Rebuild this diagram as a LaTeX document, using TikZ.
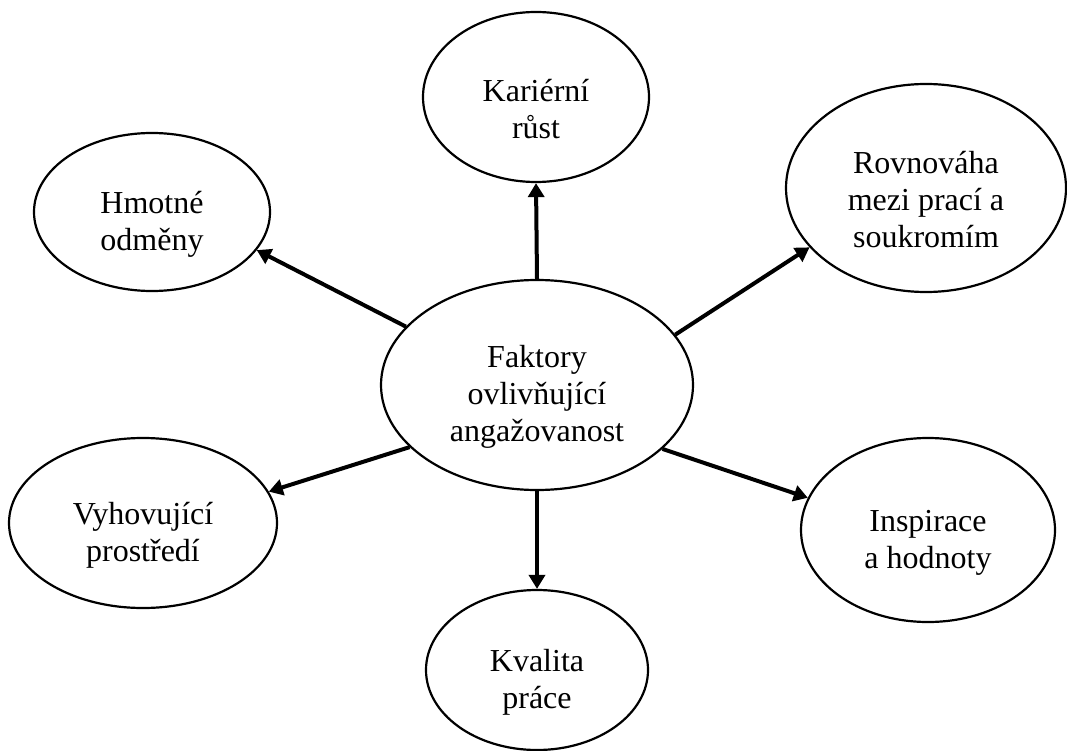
\documentclass[tikz,border=0pt]{standalone}
\usepackage{fontspec}
\setmainfont{Liberation Serif}
\usepackage{tikz}
\usetikzlibrary{arrows.meta,shapes.geometric}
\newcommand{\topgap}{\rule{0pt}{46pt}}

\begin{document}
\begin{tikzpicture}[x=1pt, y=-1pt,
  bubble/.style={draw, ellipse, line width=2.2pt, inner sep=0pt, align=center,
    font=\fontsize{32}{37}\selectfont},
  spoke/.style={line width=4pt, -{Triangle[length=14pt,width=16pt]}}]
  \useasboundingbox (0,0) rectangle (1067,751);
  % centre
  \node[bubble, minimum width=312pt, minimum height=210pt] (hub) at (537,385) {\topgap Faktory\\ovlivňující\\angažovanost};
  % factors
  \node[bubble, minimum width=226pt, minimum height=170pt] (career) at (536,97) {\topgap Kariérní\\růst};
  \node[bubble, minimum width=236pt, minimum height=158pt] (reward) at (152,212) {\topgap Hmotné\\odměny};
  \node[bubble, minimum width=280pt, minimum height=208pt] (balance) at (926,188) {\topgap Rovnováha\\mezi prací a\\soukromím};
  \node[bubble, minimum width=268pt, minimum height=170pt] (setting) at (143,523) {\topgap Vyhovující\\prostředí};
  \node[bubble, minimum width=254pt, minimum height=184pt] (values) at (928,530) {\topgap Inspirace\\a hodnoty};
  \node[bubble, minimum width=222pt, minimum height=160pt] (quality) at (537,670) {\topgap Kvalita\\práce};
  % arrows
  \draw[spoke] (hub.90) -- (career.270);
  \draw[spoke] (hub.156.6) -- (reward.340);
  \draw[spoke] (hub.20.2) -- (balance.207);
  \draw[spoke] (hub.206) -- (setting.14.8);
  \draw[spoke] (hub.333.6) -- (values.165.2);
  \draw[spoke] (hub.270) -- (quality.90);
\end{tikzpicture}
\end{document}
